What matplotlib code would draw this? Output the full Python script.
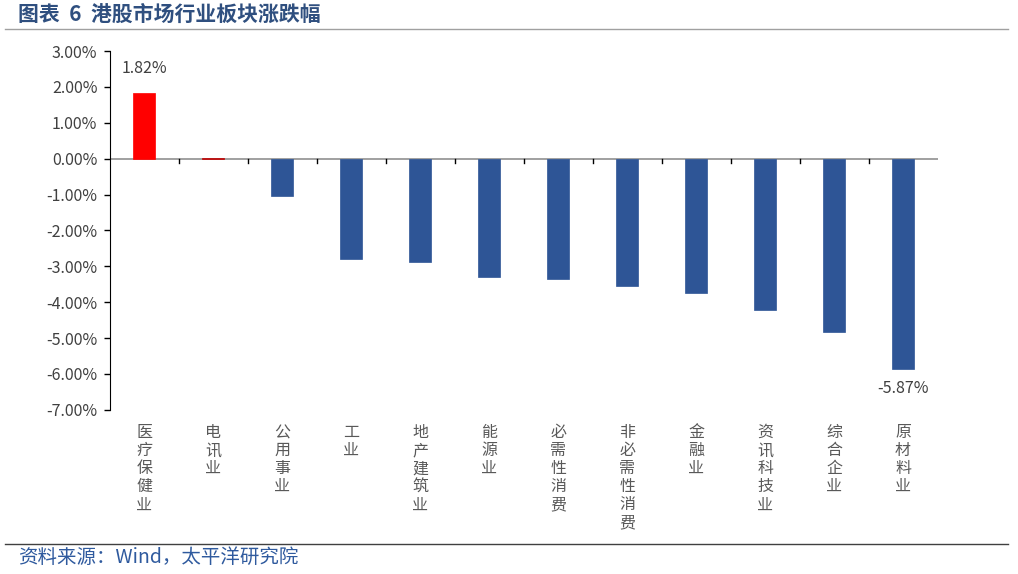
import numpy as np
import matplotlib.pyplot as plt
from matplotlib.ticker import FuncFormatter
from matplotlib.lines import Line2D

plt.rcParams['font.family'] = ['Noto Sans CJK SC', 'DejaVu Sans']

sectors = ['医疗保健业', '电讯业', '公用事业', '工业', '地产建筑业', '能源业',
           '必需性消费', '非必需性消费', '金融业', '资讯科技业', '综合企业', '原材料业']
change = [1.82, 0.03, -1.04, -2.79, -2.89, -3.29, -3.35, -3.55, -3.75, -4.22, -4.84, -5.87]

up_color = '#ff0000'
down_color = '#2e5596'
colors = [up_color if v > 0.5 else ('#c00000' if v > 0 else down_color) for v in change]

fig = plt.figure(figsize=(10.18, 5.74), dpi=100)
ax = fig.add_axes([0.108, 0.286, 0.813, 0.625])

x = np.arange(len(sectors))
ax.bar(x, change, width=0.32, color=colors, edgecolor=colors, linewidth=0.5, zorder=3)

ax.set_xlim(-0.5, len(sectors) - 0.5)
ax.set_ylim(-7, 3)
ax.set_yticks(np.arange(-7, 3.1, 1))
ax.yaxis.set_major_formatter(FuncFormatter(lambda v, p: '%.2f%%' % v))
ax.tick_params(axis='y', labelsize=11.5, labelcolor='#404040', length=4, width=1,
               direction='out', pad=5)

for s in ['top', 'right', 'bottom']:
    ax.spines[s].set_visible(False)
ax.spines['left'].set_color('black')
ax.axhline(0, color='#909090', lw=1.2, zorder=2)

# ticks between categories hanging below zero line
for b in np.arange(0.5, len(sectors) - 0.5, 1):
    ax.plot([b, b], [0, -0.13], color='black', lw=1, zorder=4, clip_on=False)
ax.set_xticks([])

for i, name in enumerate(sectors):
    ax.text(i, -7.4, '\n'.join(name), ha='center', va='top', fontsize=11.5,
            color='#595959', linespacing=1.08)

ax.text(0, change[0] + 0.45, '%.2f%%' % change[0], ha='center', va='bottom',
        fontsize=11.5, color='#404040')
ax.text(11, change[-1] - 0.3, '%.2f%%' % change[-1], ha='center', va='top',
        fontsize=11.5, color='#404040')

fig.text(0.018, 0.975, '图表  6  港股市场行业板块涨跌幅', fontsize=15, fontweight='bold',
         color='#2f4f7f', va='center', ha='left')
fig.add_artist(Line2D([0.005, 0.99], [0.949, 0.949], color='#a0a0a0', lw=1))
fig.add_artist(Line2D([0.005, 0.99], [0.052, 0.052], color='#404040', lw=1))
fig.text(0.018, 0.028, '资料来源：Wind，太平洋研究院', fontsize=14, color='#2f5a9e',
         va='center', ha='left')

fig.savefig('out.png', dpi=100)
